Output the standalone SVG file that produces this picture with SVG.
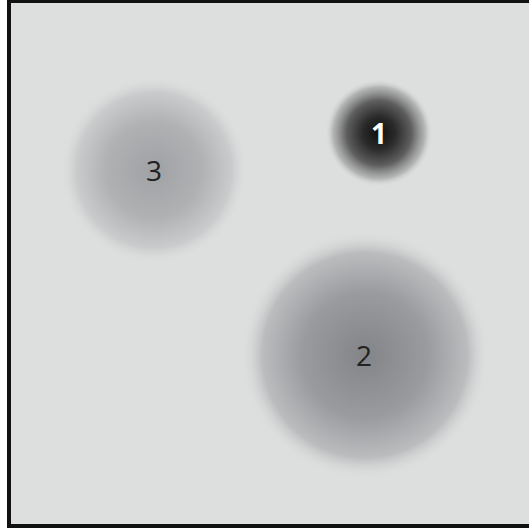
<svg xmlns="http://www.w3.org/2000/svg" width="529" height="532" viewBox="0 0 529 532">
<defs>
<radialGradient id="g1"><stop offset="0" stop-color="#101010"/><stop offset="0.3" stop-color="#2a2a2a"/><stop offset="0.6" stop-color="#5e5e5e"/><stop offset="0.85" stop-color="#a9aaab" stop-opacity="0.8"/><stop offset="1" stop-color="#dfe0df" stop-opacity="0"/></radialGradient>
<radialGradient id="g2"><stop offset="0" stop-color="#838487"/><stop offset="0.5" stop-color="#9a9b9e"/><stop offset="0.82" stop-color="#bbbcbe"/><stop offset="1" stop-color="#dfe0df" stop-opacity="0"/></radialGradient>
<radialGradient id="g3"><stop offset="0" stop-color="#a0a1a4"/><stop offset="0.5" stop-color="#b0b1b3"/><stop offset="0.82" stop-color="#cacbcc"/><stop offset="1" stop-color="#dfe0df" stop-opacity="0"/></radialGradient>
<style>.t{font-family:"Open Sans","DejaVu Sans",sans-serif;font-size:28px;text-anchor:middle}</style>
</defs>
<rect x="0" y="0" width="529" height="532" fill="#ffffff"/>
<rect x="7" y="0" width="522" height="528" fill="#111"/>
<rect x="11" y="3" width="518" height="521" fill="#dddfde"/>
<g id="n3"><circle cx="154" cy="170" r="95" fill="url(#g3)"/><text class="t" x="154" y="181" fill="#222">3</text></g>
<g id="n1"><circle cx="379" cy="133" r="54" fill="url(#g1)"/><text class="t" x="379" y="144" fill="#fff" font-weight="bold">1</text></g>
<g id="n2"><circle cx="365" cy="355" r="125" fill="url(#g2)"/><text class="t" x="364" y="366" fill="#222">2</text></g>
<g id="connectors"/>
</svg>
